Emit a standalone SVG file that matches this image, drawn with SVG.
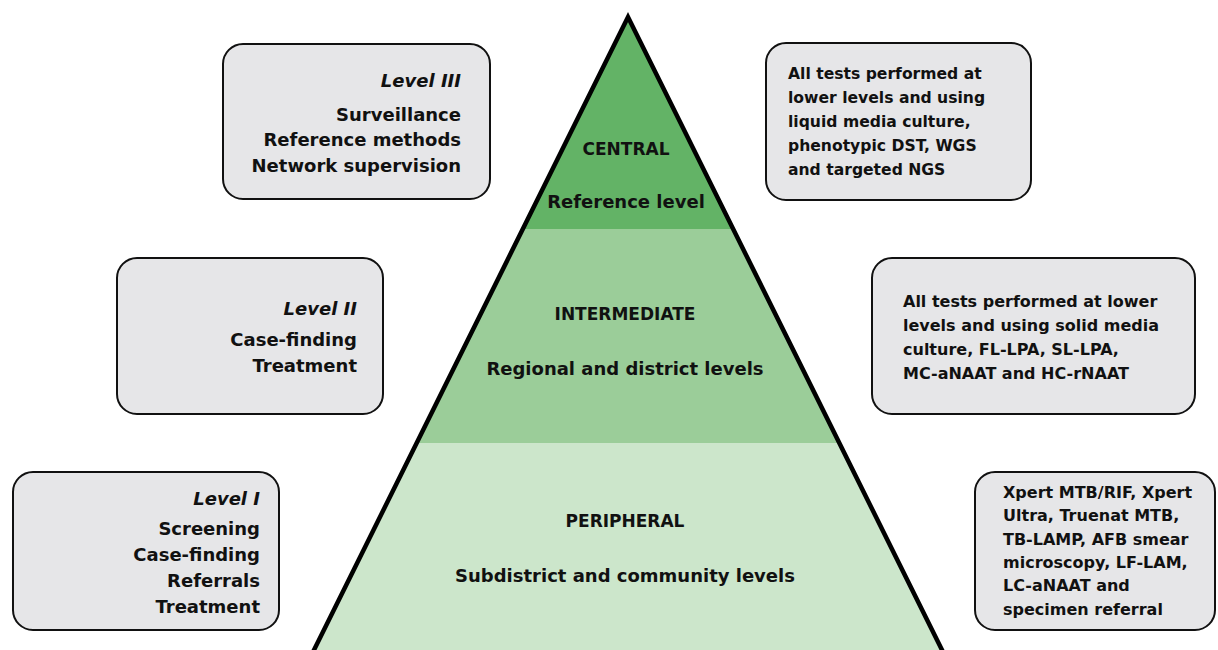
<svg xmlns="http://www.w3.org/2000/svg" width="1218" height="650" viewBox="0 0 1218 650">
<style>
.box{fill:#e6e6e8;stroke:#111;stroke-width:2}
.t{font-family:"DejaVu Sans",sans-serif;font-weight:bold;fill:#111}
.h{font-size:17px;text-anchor:middle}
.s{font-size:18px;text-anchor:middle}
.l{font-size:18px;text-anchor:end}
.it{font-style:italic}
.r{font-size:16px}
</style>
<rect width="1218" height="650" fill="#fff"/>
<g id="pyramid">
<polygon points="628,17 522.5,229 733.5,229" fill="#63b366"/>
<polygon points="522.5,229 733.5,229 840,443 416,443" fill="#9bcd99"/>
<polygon points="416,443 840,443 943,652 313,652" fill="#cce6cb"/>
<polyline points="313,652 628,17 943,652" fill="none" stroke="#000" stroke-width="4.5" stroke-linejoin="miter"/>
</g>
<g id="central">
<text class="t h" x="626" y="155">CENTRAL</text>
<text class="t s" x="626" y="208">Reference level</text>
</g>
<g id="intermediate">
<text class="t h" x="625" y="320">INTERMEDIATE</text>
<text class="t s" x="625" y="375">Regional and district levels</text>
</g>
<g id="peripheral">
<text class="t h" x="625" y="527">PERIPHERAL</text>
<text class="t s" x="625" y="582">Subdistrict and community levels</text>
</g>
<g id="level3">
<rect class="box" x="223" y="44" width="267" height="155" rx="20"/>
<text class="t l it" x="461" y="87">Level III</text>
<text class="t l" x="461" y="121">Surveillance</text>
<text class="t l" x="461" y="146">Reference methods</text>
<text class="t l" x="461" y="172">Network supervision</text>
</g>
<g id="central-tests">
<rect class="box" x="766" y="43" width="265" height="157" rx="20"/>
<text class="t" style="font-size:15.6px" x="788" y="79">All tests performed at</text>
<text class="t" style="font-size:15.6px" x="788" y="103">lower levels and using</text>
<text class="t" style="font-size:15.6px" x="788" y="127">liquid media culture,</text>
<text class="t" style="font-size:15.6px" x="788" y="151">phenotypic DST, WGS</text>
<text class="t" style="font-size:15.6px" x="788" y="175">and targeted NGS</text>
</g>
<g id="level2">
<rect class="box" x="117" y="258" width="266" height="156" rx="20"/>
<text class="t l it" x="357" y="315">Level II</text>
<text class="t l" x="357" y="346">Case-finding</text>
<text class="t l" x="357" y="372">Treatment</text>
</g>
<g id="intermediate-tests">
<rect class="box" x="872" y="258" width="323" height="156" rx="20"/>
<text class="t r" x="903" y="307">All tests performed at lower</text>
<text class="t r" x="903" y="331">levels and using solid media</text>
<text class="t r" x="903" y="355">culture, FL-LPA, SL-LPA,</text>
<text class="t r" x="903" y="379">MC-aNAAT and HC-rNAAT</text>
</g>
<g id="level1">
<rect class="box" x="13" y="472" width="266" height="158" rx="20"/>
<text class="t l it" x="260" y="505">Level I</text>
<text class="t l" x="260" y="535">Screening</text>
<text class="t l" x="260" y="561">Case-finding</text>
<text class="t l" x="260" y="587">Referrals</text>
<text class="t l" x="260" y="613">Treatment</text>
</g>
<g id="peripheral-tests">
<rect class="box" x="975" y="472" width="240" height="158" rx="20"/>
<text class="t r" x="1003" y="498">Xpert MTB/RIF, Xpert</text>
<text class="t r" x="1003" y="521">Ultra, Truenat MTB,</text>
<text class="t r" x="1003" y="545">TB-LAMP, AFB smear</text>
<text class="t r" x="1003" y="568">microscopy, LF-LAM,</text>
<text class="t r" x="1003" y="591">LC-aNAAT and</text>
<text class="t r" x="1003" y="615">specimen referral</text>
</g>
<g id="connectors"/>
</svg>
